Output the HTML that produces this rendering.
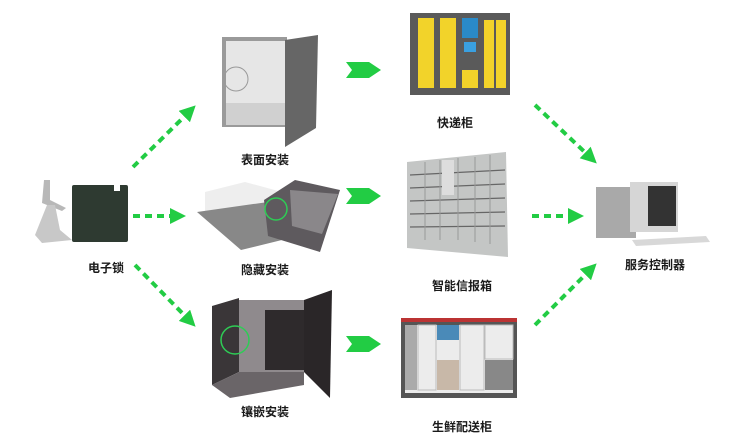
<!DOCTYPE html>
<html><head><meta charset="utf-8"><style>
html,body{margin:0;padding:0;background:#fff;}
svg{display:block;}
text{font-family:"Liberation Sans","Noto Sans CJK SC",sans-serif;font-size:12px;font-weight:bold;fill:#1a1a1a;text-anchor:middle;}
</style></head><body>
<svg width="730" height="443" viewBox="0 0 730 443" xmlns="http://www.w3.org/2000/svg">
<defs>
<marker id="ah" markerWidth="4" markerHeight="4" refX="2" refY="2" orient="auto" markerUnits="strokeWidth">
<path d="M0,0 L4,2 L0,4 Z" fill="#22cc44"/></marker>
</defs>
<g stroke="#22cc44" stroke-width="4" stroke-dasharray="7,5" fill="none" marker-end="url(#ah)">
<line x1="133" y1="167" x2="190" y2="111"/>
<line x1="133" y1="216" x2="178" y2="216"/>
<line x1="135" y1="265" x2="190" y2="321"/>
<line x1="535" y1="105" x2="591" y2="158"/>
<line x1="532" y1="216" x2="576" y2="216"/>
<line x1="535" y1="325" x2="591" y2="269"/>
</g>
<g fill="#22cc44">
<path d="M346,62 L369,62 L381,70 L369,78 L346,78 L352,70 Z"/>
<path d="M346,188 L369,188 L381,196 L369,204 L346,204 L352,196 Z"/>
<path d="M346,336 L369,336 L381,344 L369,352 L346,352 L352,344 Z"/>
</g>
<!-- lock -->
<rect x="72" y="185" width="56" height="57" rx="2" fill="#2e3a31"/>
<rect x="114" y="185" width="6" height="6" fill="#fff"/>
<path d="M44,180 l6,0 l0,20 l16,8 l-4,3 l-20,-8 Z" fill="#b8b8b8"/>
<path d="M35,235 l12,-30 l8,0 l5,25 l12,10 l-30,3 Z" fill="#c8c8c8"/>
<text x="106" y="272">电子锁</text>
<!-- surface cabinet -->
<rect x="222" y="37" width="65" height="90" fill="#9a9a9a"/>
<rect x="226" y="41" width="60" height="62" fill="#e6e6e6"/>
<rect x="226" y="103" width="60" height="22" fill="#d0d0d0"/>
<path d="M285,40 L318,35 L316,128 L285,147 Z" fill="#666"/>
<circle cx="236" cy="79" r="12" fill="none" stroke="#999" stroke-width="1"/>
<text x="265" y="164">表面安装</text>
<!-- hidden drawer -->
<path d="M205,192 L245,182 L282,192 L282,200 L205,212 Z" fill="#eee"/>
<path d="M197,212 L282,200 L290,238 L241,250 Z" fill="#888"/>
<path d="M264,200 L295,180 L340,190 L320,252 L268,236 Z" fill="#5e5a5e"/>
<path d="M290,190 L338,194 L322,234 L292,226 Z" fill="#8a878a"/>
<circle cx="276" cy="209" r="11" fill="none" stroke="#2ecc55" stroke-width="1.5"/>
<text x="265" y="274">隐藏安装</text>
<!-- embedded -->
<path d="M212,306 L239,298 L239,372 L212,385 Z" fill="#3a3638"/>
<rect x="239" y="300" width="65" height="72" fill="#8f8a8d"/>
<rect x="265" y="310" width="40" height="60" fill="#2e2a2c"/>
<path d="M304,300 L332,290 L330,398 L304,372 Z" fill="#2a2628"/>
<path d="M212,385 L239,372 L304,372 L304,385 L230,398 Z" fill="#6a6568"/>
<circle cx="235" cy="340" r="14" fill="none" stroke="#2ecc55" stroke-width="1.5"/>
<text x="265" y="416">镶嵌安装</text>
<!-- express locker -->
<rect x="410" y="13" width="100" height="82" fill="#5a5a5a"/>
<g fill="#f2d32a"><rect x="418" y="18" width="16" height="70"/><rect x="440" y="18" width="16" height="70"/><rect x="462" y="70" width="16" height="18"/><rect x="484" y="20" width="10" height="68"/><rect x="496" y="20" width="10" height="68"/></g>
<rect x="462" y="18" width="16" height="20" fill="#2a8ac8"/>
<rect x="464" y="42" width="12" height="10" fill="#3aa0e0"/>
<text x="455" y="127">快递柜</text>
<!-- mailbox -->
<path d="M407,162 L506,152 L508,257 L407,248 Z" fill="#c4c6c5"/>
<g stroke="#666" stroke-width="1.2">
<line x1="410" y1="175" x2="505" y2="170"/><line x1="410" y1="188" x2="505" y2="184"/><line x1="410" y1="201" x2="505" y2="198"/><line x1="410" y1="214" x2="505" y2="212"/><line x1="410" y1="227" x2="505" y2="226"/></g>
<g stroke="#999" stroke-width="1"><line x1="425" y1="162" x2="425" y2="240"/><line x1="440" y1="160" x2="440" y2="240"/><line x1="458" y1="158" x2="458" y2="240"/><line x1="475" y1="157" x2="475" y2="242"/><line x1="490" y1="155" x2="490" y2="244"/></g>
<rect x="442" y="160" width="12" height="35" fill="#ddd"/>
<text x="462" y="290">智能信报箱</text>
<!-- fresh -->
<rect x="401" y="318" width="116" height="80" fill="#555"/>
<rect x="401" y="318" width="116" height="4" fill="#b33"/>
<rect x="405" y="325" width="108" height="68" fill="#ececec"/>
<rect x="437" y="325" width="22" height="15" fill="#4a8ab8"/>
<rect x="437" y="360" width="22" height="30" fill="#c8b8a8"/>
<rect x="485" y="360" width="28" height="30" fill="#888"/>
<rect x="405" y="325" width="12" height="65" fill="#aaa"/>
<g stroke="#bbb" fill="none"><rect x="418" y="325" width="18" height="65"/><rect x="460" y="325" width="24" height="65"/><rect x="485" y="325" width="28" height="34"/></g>
<text x="462" y="431">生鲜配送柜</text>
<!-- computer -->
<rect x="596" y="187" width="40" height="51" fill="#a9a9a9"/>
<rect x="630" y="182" width="48" height="50" fill="#d6d6d6"/>
<rect x="648" y="186" width="28" height="40" fill="#333"/>
<path d="M632,240 L706,236 L710,242 L636,246 Z" fill="#d8d8d8"/>
<text x="655" y="269">服务控制器</text>
</svg>
</body></html>
